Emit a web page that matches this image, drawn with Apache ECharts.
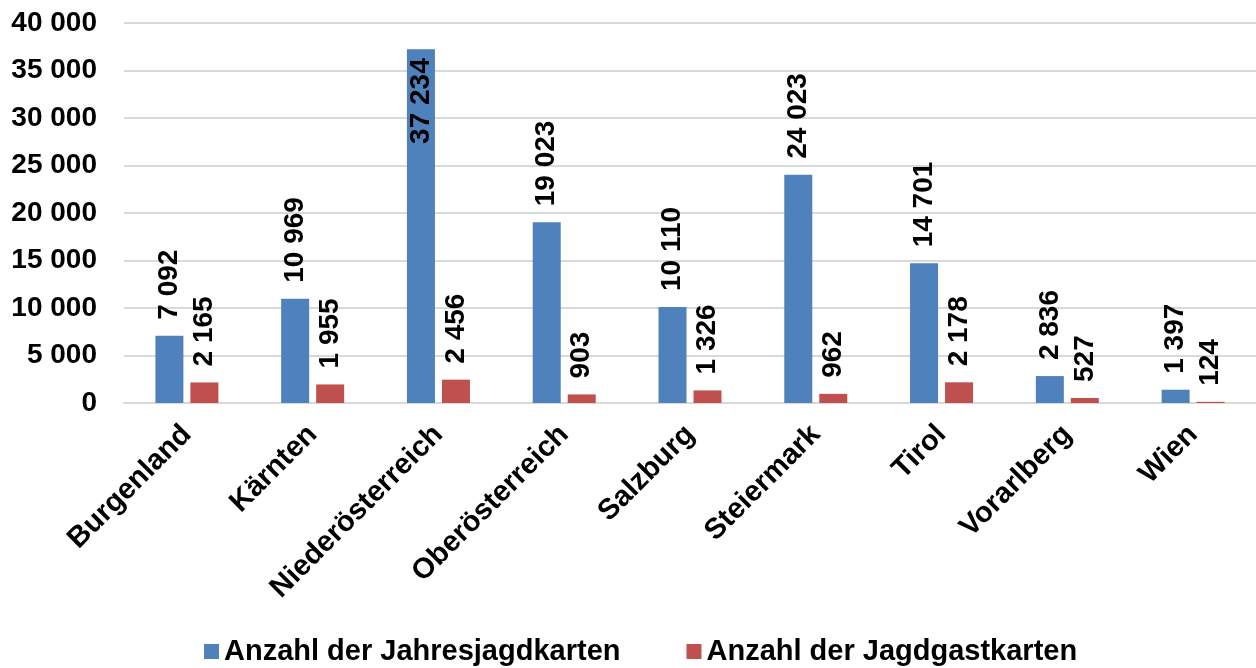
<!DOCTYPE html>
<html>
<head>
<meta charset="utf-8">
<script src="https://cdn.jsdelivr.net/npm/echarts@6/dist/echarts.min.js"></script>
<style>
  html, body { margin: 0; padding: 0; background: #fff; }
  #main { width: 1256px; height: 668px; }
</style>
</head>
<body>
<div id="main"></div>
<script>
// Bundesländer
var categories = ['Burgenland', 'Kärnten', 'Niederösterreich', 'Oberösterreich', 'Salzburg', 'Steiermark', 'Tirol', 'Vorarlberg', 'Wien'];
var jahresjagdkarten = [7092, 10969, 37234, 19023, 10110, 24023, 14701, 2836, 1397];
var jagdgastkarten = [2165, 1955, 2456, 903, 1326, 962, 2178, 527, 124];
var seriesNames = ['Anzahl der Jahresjagdkarten', 'Anzahl der Jagdgastkarten'];

var font = '"Liberation Sans", Arial, sans-serif';

// 12345 -> "12 345"
function fmt(v) {
  return String(v).replace(/\B(?=(\d{3})+(?!\d))/g, ' ');
}

var barLabel = {
  show: true,
  position: 'top',
  rotate: 90,
  align: 'left',
  verticalAlign: 'middle',
  distance: 16,
  color: '#000',
  fontFamily: font,
  fontWeight: 'bold',
  fontSize: 28,
  formatter: function (p) { return fmt(p.value); }
};

// highest bar: label goes inside the bar top
var blueData = jahresjagdkarten.map(function (v) {
  if (v > 35000) {
    return { value: v, label: { position: 'insideTop', align: 'right', distance: 9 } };
  }
  return v;
});

var chart = echarts.init(document.getElementById('main'));
chart.setOption({
  animation: false,
  textStyle: { fontFamily: font },
  grid: { left: 124, right: 0, top: 23, bottom: 265 },
  legend: {
    bottom: 2,
    left: 204,
    padding: 0,
    itemWidth: 15,
    itemHeight: 15,
    itemGap: 66,
    icon: 'rect',
    textStyle: { color: '#000', fontSize: 29, fontWeight: 'bold', fontFamily: font },
    data: seriesNames
  },
  xAxis: {
    type: 'category',
    data: categories,
    axisLine: { lineStyle: { color: '#d9d9d9', width: 2 } },
    axisTick: { show: false },
    axisLabel: {
      rotate: 45,
      interval: 0,
      margin: 27,
      color: '#000',
      fontSize: 29,
      fontWeight: 'bold',
      fontFamily: font
    }
  },
  yAxis: {
    type: 'value',
    min: 0,
    max: 40000,
    interval: 5000,
    axisLine: { show: false },
    axisTick: { show: false },
    splitLine: { lineStyle: { color: '#d9d9d9', width: 2 } },
    axisLabel: {
      margin: 27,
      color: '#000',
      fontSize: 28,
      fontWeight: 'bold',
      fontFamily: font,
      formatter: fmt
    }
  },
  series: [
    {
      name: seriesNames[0],
      type: 'bar',
      data: blueData,
      barWidth: 28,
      barGap: '25%',
      itemStyle: { color: '#4F81BD' },
      label: barLabel
    },
    {
      name: seriesNames[1],
      type: 'bar',
      data: jagdgastkarten,
      barWidth: 28,
      barGap: '25%',
      itemStyle: { color: '#C0504D' },
      label: barLabel
    }
  ]
});
</script>
</body>
</html>
